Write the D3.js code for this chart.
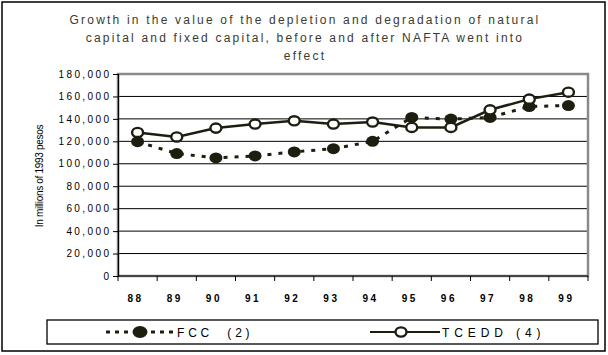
<!DOCTYPE html>
<html><head><meta charset="utf-8">
<script src="https://cdn.jsdelivr.net/npm/d3@7"></script>
<style>body{margin:0;background:#fff;} text{font-family:Arial,"Liberation Sans",sans-serif;}</style>
</head><body>
<svg id="c" width="608" height="355"></svg>
<script>
const years = ["88","89","90","91","92","93","94","95","96","97","98","99"];
const fcc   = [119700,109100,105200,107000,110600,113500,120000,141300,139800,141300,151000,151900];
const tcedd = [127900,123900,131800,135400,138300,135400,137200,132400,132400,148100,157600,163800];
const yTicks = [0,20000,40000,60000,80000,100000,120000,140000,160000,180000];
const titleLines = ["Growth in the value of the depletion and degradation of natural",
  "capital and fixed capital, before and after NAFTA went into","effect"];
const yTitle = "In millions of 1993 pesos";
const seriesNames = ["FCC  (2)","TCEDD (4)"];

const svg = d3.select("#c");
const ink = "#1e1e10";
const L=118, R=588, T=74, B=276;
const x = d3.scaleBand().domain(years).range([L,R]).padding(0);
const y = d3.scaleLinear().domain([0,180000]).range([B,T]);

// outer frame
svg.append("rect").attr("x",2).attr("y",2).attr("width",603).attr("height",349)
  .attr("fill","none").attr("stroke","#000").attr("stroke-width",1.5);

// title
svg.append("g").selectAll("text").data(titleLines).join("text")
  .attr("x",305).attr("y",(d,i)=>24+i*18).attr("text-anchor","middle")
  .attr("font-size",12).attr("letter-spacing",2.2).attr("fill","#3a3a30").text(d=>d);

// gridlines
svg.append("g").selectAll("line").data(yTicks.filter(v=>v>0&&v<180000)).join("line")
  .attr("x1",L).attr("x2",R).attr("y1",d=>y(d)).attr("y2",d=>y(d))
  .attr("stroke","#000").attr("stroke-width",1);

// plot border (gray)
svg.append("rect").attr("x",L).attr("y",T).attr("width",R-L).attr("height",B-T)
  .attr("fill","none").attr("stroke","#8a8a8a").attr("stroke-width",2.5);

// y axis
const ya = svg.append("g").attr("transform",`translate(${L},0)`)
  .call(d3.axisLeft(y).tickValues(yTicks).tickSize(5).tickPadding(4).tickFormat(d3.format(",")));
ya.select(".domain").attr("stroke","#000").attr("stroke-width",1.2);
ya.selectAll(".tick line").attr("stroke","#000");
ya.selectAll(".tick text").attr("font-size",10).attr("letter-spacing",2.4).attr("fill","#000")
  .attr("font-family","Arial,'Liberation Sans',sans-serif").attr("dx",2.4);

// x axis
const xa = svg.append("g").attr("transform",`translate(0,${B})`);
xa.append("line").attr("x1",L).attr("x2",R).attr("y1",0).attr("y2",0).attr("stroke","#000").attr("stroke-width",1.2);
const xEdges = years.map(d=>x(d)).concat([R]);
xa.selectAll("line.tk").data(xEdges).join("line").attr("class","tk")
  .attr("x1",d=>d).attr("x2",d=>d).attr("y1",0).attr("y2",5).attr("stroke","#000");
xa.selectAll("text").data(years).join("text")
  .attr("x",d=>x(d)+x.bandwidth()/2-2).attr("y",26).attr("text-anchor","middle")
  .attr("font-size",10).attr("font-weight","bold").attr("letter-spacing",2.5).attr("fill","#000").text(d=>d);

// y title
svg.append("text").attr("transform","translate(43,176) rotate(-90)").attr("text-anchor","middle")
  .attr("font-size",10).attr("letter-spacing",-0.3).attr("fill","#000").text(yTitle);

const cx = d=>x(d)+x.bandwidth()/2;
const line = d3.line().x((d,i)=>cx(years[i])).y(d=>y(d));

// FCC dashed + filled markers
svg.append("path").datum(fcc).attr("d",line).attr("fill","none").attr("stroke",ink)
  .attr("stroke-width",3).attr("stroke-dasharray","4,7");
svg.append("g").selectAll("ellipse").data(fcc).join("ellipse")
  .attr("cx",(d,i)=>cx(years[i])).attr("cy",d=>y(d)).attr("rx",6.5).attr("ry",5.5).attr("fill",ink);

// TCEDD solid + open markers
svg.append("path").datum(tcedd).attr("d",line).attr("fill","none").attr("stroke",ink).attr("stroke-width",2.5);
svg.append("g").selectAll("ellipse").data(tcedd).join("ellipse")
  .attr("cx",(d,i)=>cx(years[i])).attr("cy",d=>y(d)).attr("rx",5.5).attr("ry",4.6)
  .attr("fill","#fff").attr("stroke",ink).attr("stroke-width",2.4);

// legend
const lg = svg.append("g");
lg.append("rect").attr("x",47).attr("y",320).attr("width",551).attr("height",24)
  .attr("fill","#fff").attr("stroke","#000").attr("stroke-width",1.3);
const ly = 332;
lg.append("line").attr("x1",106).attr("x2",176).attr("y1",ly).attr("y2",ly).attr("stroke",ink)
  .attr("stroke-width",3).attr("stroke-dasharray","4,5");
lg.append("ellipse").attr("cx",140).attr("cy",ly).attr("rx",7.5).attr("ry",6).attr("fill",ink);
lg.append("text").attr("x",177).attr("y",ly+4.5).attr("font-size",12).attr("letter-spacing",3.8)
  .attr("fill","#000").style("white-space","pre").text(seriesNames[0]);
lg.append("line").attr("x1",370).attr("x2",440).attr("y1",ly).attr("y2",ly).attr("stroke",ink).attr("stroke-width",2.2);
lg.append("ellipse").attr("cx",401).attr("cy",ly).attr("rx",5.5).attr("ry",4.6)
  .attr("fill","#fff").attr("stroke",ink).attr("stroke-width",2.4);
lg.append("text").attr("x",442).attr("y",ly+4.5).attr("font-size",12).attr("letter-spacing",4.9)
  .attr("fill","#000").style("white-space","pre").text(seriesNames[1]);
</script>
</body></html>
